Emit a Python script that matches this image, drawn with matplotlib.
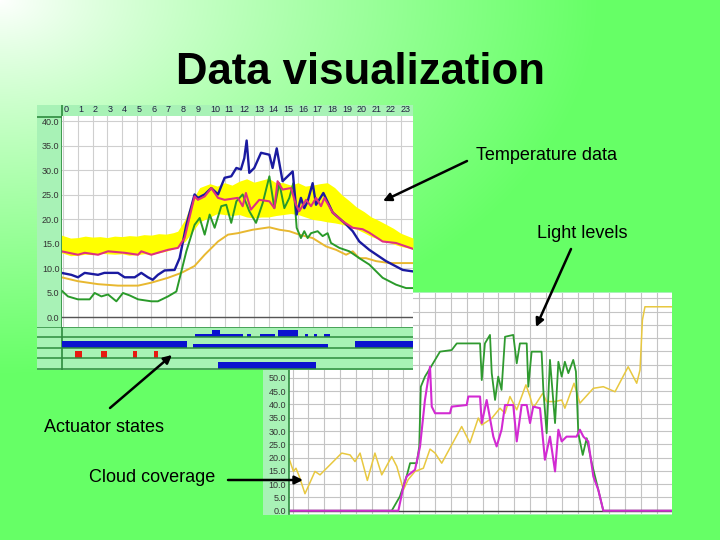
import numpy as np
import matplotlib.pyplot as plt

plt.rcParams['font.family'] = ['Liberation Sans', 'DejaVu Sans']

W, H = 720, 540

# ---------- chart 1: temperatures through the day (hour, deg C)
band_hours = [-0.12, 0.5, 1, 1.5, 2, 2.5, 3, 3.5, 4, 4.5, 5, 5.5, 6, 6.5, 7, 7.5, 7.8, 8.3, 8.8, 9.3,
              10, 10.5, 11, 11.5, 12, 12.5, 13, 13.5, 14, 14.5, 15, 15.5, 16, 16.5, 17, 17.5, 18, 18.5,
              19, 19.5, 20, 20.5, 21, 21.5, 22, 22.5, 23, 23.84]
band_high = [16.8, 16.2, 16.3, 16.6, 16.4, 16.5, 16.3, 16.6, 16.5, 16.7, 16.6, 16.9, 16.8, 17.1, 17.0,
             17.3, 17.6, 20.0, 24.0, 26.5, 27.3, 26.8, 27.5, 27.0, 27.8, 28.3, 27.6, 28.0, 28.4, 27.5,
             27.5, 27.0, 27.5, 26.8, 27.0, 27.3, 27.5, 26.5, 25.0, 23.8, 22.5, 21.6, 20.5, 19.8, 19.0,
             18.2, 17.2, 16.2]
band_low = [13.2, 12.6, 12.7, 12.9, 12.8, 13.1, 13.0, 12.9, 13.0, 12.7, 12.8, 13.0, 12.9, 13.2, 13.5,
            14.0, 14.5, 15.5, 17.5, 19.5, 20.5, 21.2, 21.0, 20.8, 21.0, 20.5, 20.3, 20.5, 20.5, 20.8,
            21.0, 21.2, 21.0, 20.5, 20.0, 19.8, 19.5, 19.3, 19.0, 18.5, 18.0, 17.3, 16.5, 16.0, 15.5,
            15.0, 14.5, 14.0]

blue_hours = [-0.12, 0.55, 1.0, 1.46, 2.37, 2.8, 3.73, 4.18, 4.87, 5.32, 5.77, 6.1, 6.45, 6.91, 7.59,
              7.93, 8.39, 8.95, 9.18, 9.64, 10.09, 10.55, 10.77, 11.0, 11.45, 11.8, 12.11, 12.34, 12.5,
              12.68, 13.02, 13.48, 14.05, 14.27, 14.55, 14.95, 15.64, 15.91, 16.2, 16.43, 16.66, 17.0,
              17.23, 17.73, 18.37, 19.28, 19.73, 20.18, 20.86, 22.0, 23.14, 23.84]
blue_temp = [9.1, 8.7, 8.2, 9.1, 8.7, 9.1, 9.1, 8.2, 8.2, 9.1, 8.2, 7.7, 8.7, 9.6, 9.7, 12.1, 18.9,
             25.1, 24.4, 25.1, 26.4, 25.1, 26.8, 28.5, 28.8, 30.5, 30.2, 32.5, 36.1, 29.5, 30.5, 33.6,
             33.2, 30.5, 34.5, 27.8, 29.8, 21.0, 24.4, 22.3, 23.7, 27.4, 23.0, 25.4, 21.4, 19.0, 17.6,
             15.5, 13.8, 11.5, 9.7, 9.4]

red_hours = [-0.12, 1.0, 1.46, 2.37, 3.05, 4.18, 5.1, 5.32, 6.0, 6.45, 7.14, 7.82, 8.27, 8.95, 9.18,
             9.64, 10.09, 10.55, 11.0, 11.9, 12.23, 12.45, 12.79, 13.36, 14.05, 14.39, 14.61, 14.95,
             15.52, 15.86, 16.09, 16.55, 16.89, 17.23, 17.57, 17.8, 18.37, 19.05, 19.73, 20.41, 20.86,
             21.77, 22.68, 23.84]
red_temp = [13.5, 12.8, 13.2, 12.8, 13.5, 13.2, 12.8, 13.5, 12.8, 13.2, 13.8, 14.2, 16.2, 24.7, 24.0,
            24.7, 26.4, 24.4, 24.0, 24.4, 22.7, 25.4, 22.0, 24.0, 23.7, 22.3, 27.8, 26.1, 26.4, 23.0,
            21.7, 24.0, 22.7, 24.4, 22.7, 24.4, 21.4, 19.6, 18.3, 18.0, 17.3, 15.5, 15.2, 14.0]

green_hours = [-0.12, 0.32, 1.0, 1.8, 2.14, 2.6, 3.05, 3.62, 4.07, 4.53, 5.1, 6.0, 6.45, 7.14, 7.71,
               8.05, 8.39, 8.95, 9.3, 9.64, 9.98, 10.32, 10.77, 11.11, 11.45, 11.8, 12.23, 12.68, 13.14,
               13.6, 14.05, 14.39, 14.73, 15.07, 15.41, 15.68, 15.91, 16.2, 16.43, 16.66, 16.89, 17.34,
               17.68, 18.02, 18.25, 18.82, 19.5, 20.18, 20.86, 21.77, 22.68, 23.37, 23.84]
green_temp = [5.5, 4.3, 3.7, 3.7, 5.0, 4.3, 4.7, 3.3, 5.0, 4.5, 3.7, 3.3, 3.3, 4.3, 5.3, 9.4, 13.5,
              18.9, 20.3, 16.9, 21.0, 18.3, 22.7, 23.0, 19.3, 23.7, 25.1, 21.7, 19.3, 23.4, 28.8, 22.3,
              27.4, 22.3, 24.4, 27.4, 18.3, 16.2, 17.6, 16.2, 17.2, 17.6, 16.6, 17.2, 15.2, 14.2, 13.5,
              12.1, 10.8, 8.1, 6.7, 6.0, 6.0]

gold_hours = [-0.12, 1.0, 2.37, 3.73, 5.1, 6.0, 7.14, 8.05, 8.95, 9.64, 10.55, 11.23, 11.9, 12.91,
              14.05, 14.73, 15.41, 16.09, 17.0, 17.91, 18.6, 19.28, 19.73, 20.18, 20.64, 21.32, 22.23,
              23.84]
gold_temp = [8.2, 7.4, 6.8, 6.5, 6.5, 7.1, 8.1, 9.1, 10.5, 12.8, 15.5, 16.9, 17.2, 17.9, 18.4, 17.9,
             17.6, 16.9, 16.2, 14.5, 13.8, 12.8, 13.5, 12.1, 12.1, 11.5, 11.1, 11.1]

temp_ticks = list(range(0, 45, 5))
hour_ticks = list(range(24))

# actuator states, one list per row: (start hour, end hour, level)
state_row1 = [(8.98, 12.25, 0.33), (10.14, 10.68, 0.71), (12.52, 12.8, 0.33), (13.41, 14.43, 0.33),
              (14.64, 16.0, 0.71), (16.48, 16.68, 0.33), (17.09, 17.3, 0.33), (17.78, 18.18, 0.33)]
state_row2 = [(-0.12, 8.44, 0.67), (8.84, 18.04, 0.38), (19.9, 23.84, 0.67)]
state_row3 = [(0.8, 1.27, 0.67), (2.58, 2.99, 0.67), (4.76, 5.03, 0.67), (6.19, 6.46, 0.67)]
state_row4 = [(10.55, 17.23, 0.67)]

# ---------- chart 2: light levels through the day
yellow_hours = [-0.2, 0.05, 0.21, 0.42, 0.78, 1.41, 1.73, 3.1, 3.63, 3.94, 4.26, 4.72, 5.2, 5.63, 6.26,
                6.58, 7.0, 7.3, 7.73, 8.26, 8.68, 9.0, 9.42, 10.05, 10.68, 11.2, 11.73, 11.95, 12.58,
                13.1, 13.42, 13.73, 14.16, 14.74, 15.0, 15.2, 15.8, 16.05, 16.58, 17.0, 17.2, 17.78,
                18.15, 19.0, 19.63, 20.37, 21.2, 21.74, 21.95, 22.1, 22.26, 23.97]
yellow_light = [19.2, 14.8, 16.0, 12.9, 6.4, 14.8, 13.5, 21.7, 21.0, 18.5, 21.7, 11.4, 21.7, 13.5, 20.4,
                16.7, 7.9, 11.7, 14.8, 16.0, 23.2, 21.7, 17.9, 24.8, 31.7, 25.5, 34.9, 32.3, 34.8,
                38.6, 36.7, 43.0, 38.0, 47.4, 43.0, 38.6, 44.2, 41.1, 41.1, 41.7, 38.6, 48.0, 40.5,
                46.1, 46.7, 44.8, 54.2, 48.0, 53.0, 71.8, 76.8, 76.8]

lgreen_hours = [-0.23, 6.26, 6.78, 7.2, 7.42, 7.84, 8.0, 8.1, 8.36, 8.68, 9.31, 10.05, 10.37, 11.84,
                11.95, 12.15, 12.47, 12.58, 12.79, 12.99, 13.2, 13.42, 13.94, 14.16, 14.36, 14.79, 14.89,
                15.1, 15.73, 15.84, 16.05, 16.26, 16.58, 16.79, 17.0, 17.2, 17.42, 17.73, 17.9, 18.05,
                18.33, 18.58, 18.9, 19.21, 19.63, 23.97]
lgreen_light = [0, 0, 5.4, 12.9, 17.9, 17.9, 24.2, 46.7, 50.5, 53.6, 59.9, 60.5, 63.0, 63.0, 49.2,
                63.0, 66.2, 51.8, 41.7, 50.5, 45.5, 65.5, 66.2, 55.5, 63.0, 63.0, 46.7, 59.9, 59.9,
                45.5, 29.2, 56.8, 33.0, 56.1, 50.5, 56.1, 51.8, 56.8, 52.4, 29.2, 21.0, 27.3, 17.9,
                10.4, 0, 0]

magenta_hours = [-0.23, 6.68, 7.0, 7.2, 7.73, 8.05, 8.36, 8.68, 8.79, 9.0, 9.94, 10.05, 11.0, 11.1,
                 11.84, 11.95, 12.26, 12.68, 12.89, 13.2, 13.42, 13.94, 14.16, 14.47, 14.79, 15.0, 15.2,
                 15.63, 15.94, 16.26, 16.58, 16.79, 17.0, 17.31, 17.94, 18.15, 18.37, 18.68, 19.0,
                 19.31, 19.63, 23.97]
magenta_light = [0, 0, 9.1, 12.9, 15.4, 24.2, 41.7, 54.2, 39.2, 36.7, 36.7, 39.2, 39.8, 43.0, 43.0,
                 33.0, 41.7, 27.9, 24.2, 30.5, 39.8, 39.8, 26.1, 39.8, 39.8, 33.0, 39.2, 38.6, 19.2,
                 27.9, 14.8, 30.5, 26.1, 27.9, 27.9, 30.5, 27.9, 26.1, 12.9, 7.9, 0, 0]

light_ticks = list(range(0, 85, 5))


def box(x0, y0, x1, y1):
    # pixel box (top-left origin) -> figure fraction
    return [x0 / W, 1 - y1 / H, (x1 - x0) / W, (y1 - y0) / H]


def bare(ax):
    # hide ticks and spines but keep the face colour
    ax.set_xticks([])
    ax.set_yticks([])
    for s in ax.spines.values():
        s.set_visible(False)


fig = plt.figure(figsize=(7.2, 5.4), dpi=100)

# slide background: white in the top-left corner fading into green
bg = fig.add_axes([0, 0, 1, 1])
yy, xx = np.mgrid[0:H, 0:W]
t = np.clip(np.hypot(xx, yy * 1.6) / 600, 0, 1) ** 0.85
green = np.array([0.40, 1.0, 0.40])
img = (1 - t[..., None]) * np.ones(3) + t[..., None] * green
bg.imshow(img, extent=(0, W, H, 0), aspect='auto')
bg.axis('off')

strip = '#a8f2b6'
dkgreen = '#2e8b3e'

# ---- chart 2 (drawn first, chart 1 overlaps it)
frame2 = fig.add_axes(box(263, 292, 672, 515))
frame2.set_facecolor(strip)
bare(frame2)

ax2 = fig.add_axes(box(289, 292.7, 672, 514))
ax2.set_xlim(-0.23, 23.97)
ax2.set_ylim(-1.24, 82.1)
ax2.set_xticks(hour_ticks)
ax2.set_yticks(light_ticks)
ax2.set_yticklabels([f'{v:.1f}' for v in light_ticks], fontsize=6.5, color='#333333')
ax2.tick_params(length=0, labelbottom=False, pad=2)
ax2.grid(color='#c4c4c4', lw=0.8)
ax2.set_axisbelow(True)
for s in ['top', 'right', 'bottom']:
    ax2.spines[s].set_visible(False)
ax2.spines['left'].set_color(dkgreen)
ax2.spines['left'].set_linewidth(1.2)
ax2.axhline(0, color='#404040', lw=1)
ax2.plot(yellow_hours, yellow_light, color='#e8c840', lw=1.1)
ax2.plot(lgreen_hours, lgreen_light, color='#2f9a2f', lw=1.3)
ax2.plot(magenta_hours, magenta_light, color='#d22ad2', lw=1.5)

# ---- chart 1
frame1 = fig.add_axes(box(37, 105, 413, 370))
frame1.set_facecolor(strip)
frame1.set_xlim(37, 413)
frame1.set_ylim(370, 105)
bare(frame1)
frame1.plot([61.5, 61.5], [105, 370], color=dkgreen, lw=1.2)
frame1.plot([37, 413], [116.5, 116.5], color=dkgreen, lw=1.2)

ax1 = fig.add_axes(box(61.5, 116.5, 413, 327))
ax1.set_xlim(-0.12, 23.84)
ax1.set_ylim(-1.94, 41.0)
ax1.xaxis.tick_top()
ax1.set_xticks(hour_ticks)
ax1.set_xticklabels([str(h) for h in hour_ticks], fontsize=6.5, color='#202040', ha='left')
ax1.set_yticks(temp_ticks)
ax1.set_yticklabels([f'{v:.1f}' for v in temp_ticks], fontsize=6.5, color='#333333')
ax1.tick_params(length=0, pad=1.5)
ax1.grid(color='#cfcfcf', lw=0.8)
ax1.set_axisbelow(True)
for s in ax1.spines.values():
    s.set_visible(False)
ax1.axhline(0, color='#555555', lw=1)
ax1.fill_between(band_hours, band_low, band_high, color='#ffff00', lw=0)
ax1.plot(gold_hours, gold_temp, color='#e8b830', lw=1.4)
ax1.plot(green_hours, green_temp, color='#2a9a2a', lw=1.4)
ax1.plot(blue_hours, blue_temp, color='#1a1aa0', lw=1.7)
ax1.plot(red_hours, red_temp, color='#e03080', lw=1.5)

# actuator / cloud panel under chart 1
panel = fig.add_axes(box(37, 327, 413, 370))
panel.set_xlim(-1.793, 23.84)
panel.set_ylim(4.1, 0)
panel.set_facecolor('none')
panel.axis('off')
for r in range(5):
    panel.axhline(r, color=dkgreen, lw=1.1)
rows = [state_row1, state_row2, state_row3, state_row4]
row_colors = ['#0a12d0', '#0a12d0', '#e81a10', '#0a12d0']
for r, row in enumerate(rows):
    for start, end, level in row:
        panel.bar(start, level, width=end - start, bottom=r + 1 - level, align='edge',
                  color=row_colors[r], lw=0)

# ---- slide title, captions and arrows
ov = fig.add_axes([0, 0, 1, 1])
ov.set_xlim(0, W)
ov.set_ylim(H, 0)
ov.axis('off')
ov.text(360, 84, 'Data visualization', ha='center', va='baseline', fontsize=31.5, fontweight='bold')
ov.text(476, 155, 'Temperature data', ha='left', va='center', fontsize=13)
ov.text(537, 234, 'Light levels', ha='left', va='center', fontsize=13)
ov.text(44, 427, 'Actuator states', ha='left', va='center', fontsize=13)
ov.text(89, 478, 'Cloud coverage', ha='left', va='center', fontsize=13)

arrow = dict(arrowstyle='-|>', color='black', lw=1.8, mutation_scale=12, shrinkA=0, shrinkB=0)
ov.annotate('', xy=(383, 201), xytext=(467, 161), arrowprops=arrow)
ov.annotate('', xy=(536, 327), xytext=(571, 249), arrowprops=arrow)
ov.annotate('', xy=(172, 355), xytext=(110, 408), arrowprops=arrow)
ov.annotate('', xy=(303, 480), xytext=(228, 480), arrowprops=arrow)

fig.savefig('out.png', dpi=100)
